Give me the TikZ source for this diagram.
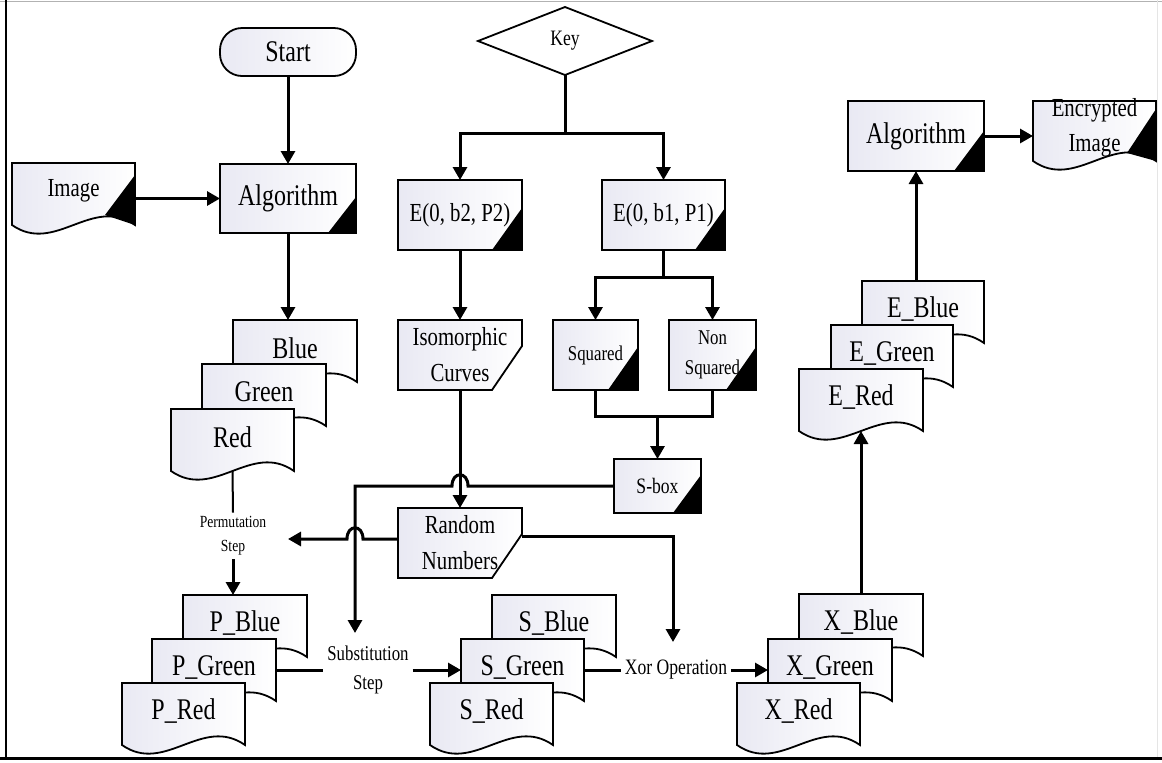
\documentclass[tikz,border=0pt]{standalone}
\usepackage{fontspec}
\setmainfont{Liberation Serif}[FakeStretch=0.8]
\usetikzlibrary{arrows.meta,shapes.geometric,calc}
\definecolor{boxl}{RGB}{233,233,243}
\newcommand\fntA{\fontsize{15pt}{18pt}\selectfont}
\newcommand\fntB{\fontsize{13pt}{18pt}\selectfont}
\newcommand\fntEnc{\fontsize{13pt}{17.5pt}\selectfont}
\newcommand\fntC{\fontsize{10.5pt}{15pt}\selectfont}
\newcommand\fntK{\fontsize{11pt}{13pt}\selectfont}
\newcommand\fntS{\fontsize{10.5pt}{14.5pt}\selectfont}
\newcommand\fntP{\fontsize{8.5pt}{12pt}\selectfont}
\newcommand\blackcorner[3]{\fill (#1.south east) -- ++(0,-#3) -- ++(-#2,#3) -- cycle;}
\newcommand\docnode[5][]{%
  \node[docbody,#1] (#2) at (#3) {};
  \draw[shapeline,boxshade] (#2.north west) -- (#2.north east) -- (#2.south east)
    .. controls +(-43,-30) and +(43,30) .. (#2.south west) -- cycle;
  \node[font=#4,align=center] (#2-t) at ($(#2.center)+(0,-3)$) {#5};}
\newcommand\cutnode[3]{%
  \node[cutbody] (#1) at (#2) {};
  \draw[shapeline,boxshade] (#1.north west) -- (#1.north east) -- ($(#1.south east)+(0,-44)$)
    -- ($(#1.south east)+(-30,0)$) -- (#1.south west) -- cycle;
  \node[font=\fntB,align=center] (#1-t) at (#1.center) {#3};}
\begin{document}
\begin{tikzpicture}[x=0.5pt,y=-0.5pt,
  every node/.style={inner sep=0pt,outer sep=0pt},
  shapeline/.style={line width=0.9pt},
  boxshade/.style={left color=boxl,right color=white},
  conn/.style={line width=1.5pt},
  arr/.style={conn,-{Triangle[length=6.5pt,width=7pt]}},
  procbox/.style={draw,shapeline,boxshade,align=center},
  docbody/.style={minimum width=62pt,minimum height=31pt},
  cutbody/.style={minimum width=62pt,minimum height=35pt},
  lbl/.style={align=center,inner sep=2pt},
]
\useasboundingbox (0,0) rectangle (1162,762);
% frame
\draw[gray!60,line width=0.5pt] (0,1) -- (1162,1);
\draw[gray!20,line width=0.5pt] (1157,0) -- (1157,758);
\draw[line width=1.2pt] (6,0) -- (6,758);
\draw[line width=1.5pt] (0,758) -- (1162,758);

% top left
\docnode[minimum width=61.5pt]{img}{73.5,194}{\fntB}{Image}
\fill (img.south east) -- ++(0,-50) -- ++(-30,40) -- cycle;
\node[procbox,rounded corners=11pt,minimum width=68pt,minimum height=24pt,font=\fntA] (start) at (288,52) {Start};
\node[procbox,minimum width=68pt,minimum height=34.5pt,font=\fntA] (algo) at (288,198.5) {Algorithm};
\blackcorner{algo}{28}{36}

% key branch
\node[draw,shapeline,fill=white,diamond,minimum width=87pt,minimum height=34pt,font=\fntK] (key) at (565,41) {Key};
\node[procbox,minimum width=62pt,minimum height=35pt,font=\fntB] (e2) at (460,215) {E(0, b2, P2)};
\blackcorner{e2}{30}{42}
\node[procbox,minimum width=61.5pt,minimum height=35pt,font=\fntB] (e1) at (663.5,215) {E(0, b1, P1)};
\blackcorner{e1}{30}{42}
\cutnode{iso}{460,355}{Isomorphic\\Curves}
\node[procbox,minimum width=42.5pt,minimum height=35pt,font=\fntC] (sq) at (595.5,355) {Squared};
\blackcorner{sq}{30}{43}
\node[procbox,minimum width=43.5pt,minimum height=35pt,font=\fntC] (nsq) at (712.5,355) {Non\\Squared};
\blackcorner{nsq}{30}{43}
\node[procbox,minimum width=43.5pt,minimum height=27pt,font=\fntK] (sbox) at (657.5,486) {S-box};
\blackcorner{sbox}{28}{38}
\cutnode{rnd}{460,543}{Random\\Numbers}

% RGB stack
\docnode{blue}{295,351}{\fntA}{Blue}
\docnode{green}{264,395}{\fntA}{Green}
\docnode[minimum width=61.5pt]{red}{232.5,440}{\fntA}{Red}
\node[lbl,font=\fntP] (perm) at (233,536) {Permutation\\Step};

% P stack
\docnode{pblue}{245,626}{\fntA}{P\_Blue}
\docnode{pgreen}{214,670}{\fntA}{P\_Green}
\docnode[minimum width=61.5pt]{pred}{183.5,714}{\fntA}{P\_Red}
\node[lbl,font=\fntS] (subst) at (368,670) {Substitution\\Step};

% S stack
\docnode{sblue}{554,626}{\fntA}{S\_Blue}
\docnode[minimum width=61.5pt]{sgreen}{522.5,670}{\fntA}{S\_Green}
\docnode[minimum width=61.5pt]{sred}{491.5,714}{\fntA}{S\_Red}
\node[lbl,font=\fntK] (xor) at (676,670) {Xor Operation};

% X stack
\docnode{xblue}{861,625}{\fntA}{X\_Blue}
\docnode{xgreen}{830,670}{\fntA}{X\_Green}
\docnode[minimum width=61.5pt]{xred}{798.5,714}{\fntA}{X\_Red}

% E stack
\docnode[minimum width=61pt]{eblue}{923,312}{\fntA}{E\_Blue}
\docnode[minimum width=61pt]{egreen}{892,356}{\fntA}{E\_Green}
\docnode{ered}{861,400}{\fntA}{E\_Red}

% final
\node[procbox,minimum width=68pt,minimum height=35pt,font=\fntA] (alg2) at (916,136) {Algorithm};
\blackcorner{alg2}{30}{40}
\docnode[minimum width=61.5pt,minimum height=30pt]{enc}{1094.5,131}{\fntEnc}{Encrypted\\Image}
\fill (enc.south east) -- ++(0,-52) -- ++(-29,44) -- cycle;

% connectors
\draw[arr] (start.south) -- (algo.north);
\draw[arr] (img.east |- algo.west) -- (algo.west);
\draw[arr] (algo.south) -- (algo.south |- blue.north);
\coordinate (kj) at (565,133);
\draw[conn] (key.south) -- (kj);
\draw[arr] (kj) -| (e2.north);
\draw[arr] (kj) -| (e1.north);
\draw[arr] (e2.south) -- (iso.north);
\coordinate (ej) at (663.5,277);
\draw[conn] (e1.south) -- (ej);
\draw[arr] (ej) -| (sq.north);
\draw[arr] (ej) -| (nsq.north);
\coordinate (sj) at (657.5,416);
\draw[conn] (sq.south) |- (sj) -| (nsq.south);
\draw[arr] (sj) -- (sbox.north);
\draw[arr] (iso.south) -- (rnd.north);
\coordinate (subin) at (355,633);
\draw[arr] (sbox.west) -- ($(sbox.west -| iso.south)+(8,0)$)
  .. controls +(0,-15) and +(0,-15) .. ($(sbox.west -| iso.south)+(-8,0)$) -| (subin);
\coordinate (permin) at (288,539);
\draw[arr] ($(rnd.west)+(0,-4)$) -- ($(subin |- permin)+(8,0)$)
  .. controls +(0,-15) and +(0,-15) .. ($(subin |- permin)+(-8,0)$) -- (permin);
\coordinate (xorin) at (673,642);
\draw[arr] ($(rnd.north east)+(0,28)$) -| (xorin);
\draw[line width=1pt] (red.south) -- (perm.north);
\draw[arr] (perm.south) -- (perm.south |- pblue.north);
\draw[conn] (pgreen.east) -- (subst.west);
\draw[arr] (subst.east) -- (sgreen.west);
\draw[conn] (sgreen.east) -- (xor.west);
\draw[arr] (xor.east) -- (xgreen.west);
\draw[arr] (xblue.north) -- (ered.south);
\draw[arr] (alg2.south |- eblue.north) -- (alg2.south);
\draw[arr] (alg2.east) -- (alg2.east -| enc.west);
\end{tikzpicture}
\end{document}
